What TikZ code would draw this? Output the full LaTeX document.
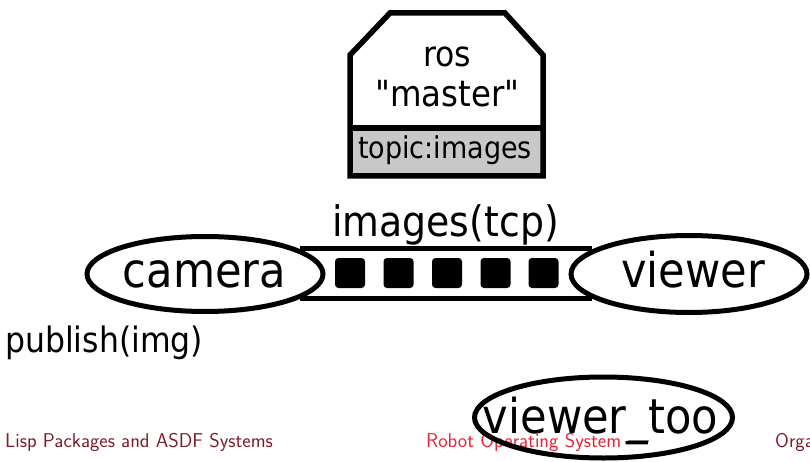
\documentclass[tikz,border=0pt]{standalone}
\usepackage{fontspec}
\newfontfamily\dv[FakeStretch=0.9]{DejaVu Sans}
\usetikzlibrary{backgrounds,calc,shapes.geometric}
\definecolor{footdark}{RGB}{123,28,44}
\definecolor{footred}{RGB}{230,35,55}
\definecolor{topicgray}{RGB}{200,200,200}
\begin{document}
\begin{tikzpicture}[x=1pt,y=-1pt,
  lbl/.style={font=\dv, inner sep=0pt, anchor=base},
  proc/.style={draw, line width=5pt, ellipse, fill=white, inner sep=0pt},
  pkt/.style={fill=black, rounded corners=3.5pt, minimum size=30pt, inner sep=0pt},
  chan/.style={line width=5pt},
  foot/.style={font=\sffamily\fontsize{20}{20}\selectfont, inner sep=0pt, anchor=base west}]
\useasboundingbox (0,0) rectangle (810,462);
% master
\fill[topicgray] (350,128) rectangle (543,176);
\draw[line width=5.5pt, line join=miter] (390,13) -- (505,13) -- (543,55) -- (543,176) -- (350,176) -- (350,55) -- cycle;
\draw[line width=5.5pt] (350,128) -- (543,128);
\node[lbl, font=\dv\fontsize{35}{35}\selectfont] (ros) at (447,67) {ros};
\node[lbl, font=\dv\fontsize{36}{36}\selectfont] (master) at (447.5,107) {"master"};
\node[lbl, font=\dv\fontsize{30}{30}\selectfont] (topic) at (445,159) {topic:images};
% processes
\node[proc, minimum width=236pt, minimum height=75pt] (cam) at (205,274) {};
\node[proc, minimum width=236pt, minimum height=77pt] (view) at (689,274) {};
\node[lbl, font=\dv\fontsize{48}{48}\selectfont] (camtext) at (204.5,287) {camera};
\node[lbl, font=\dv\fontsize{48}{48}\selectfont] (viewtext) at (693,287) {viewer};
\begin{scope}[on background layer]
\draw[chan] ($(cam.center)+(95,-26)$) -- ($(view.center)+(-97,-26)$);
\draw[chan] ($(cam.center)+(95,24)$) -- ($(view.center)+(-97,24)$);
\end{scope}
\foreach \i/\x in {1/350,2/398.5,3/447,4/495.5,5/543.5}
  \node[pkt] (pk\i) at (\x,273) {};
\node[lbl, font=\dv\fontsize{42}{42}\selectfont] (chanlbl) at (445.5,236.5) {images(tcp)};
\node[lbl, font=\dv\fontsize{35}{35}\selectfont, anchor=base west] (pub) at (5,352) {publish(img)};
% footer
\node[foot, text=footdark] (f1) at (5,447) {Lisp Packages and ASDF Systems};
\node[foot, text=footred] (f2) at (426,447) {Robot Operating System};
\node[foot, text=black, font=\sffamily\fontsize{22}{22}\selectfont] (f3) at (628,447) {\textemdash};
\node[foot, text=footdark] (f4) at (775,447) {Orga};
% viewer_too
\node[draw, line width=5pt, ellipse, inner sep=0pt, minimum width=258pt, minimum height=81pt] (too) at (603.5,417.5) {};
\node[lbl, font=\dv\fontsize{48}{48}\selectfont] (tootext) at (600.5,433) {viewer\_too};
\end{tikzpicture}
\end{document}
